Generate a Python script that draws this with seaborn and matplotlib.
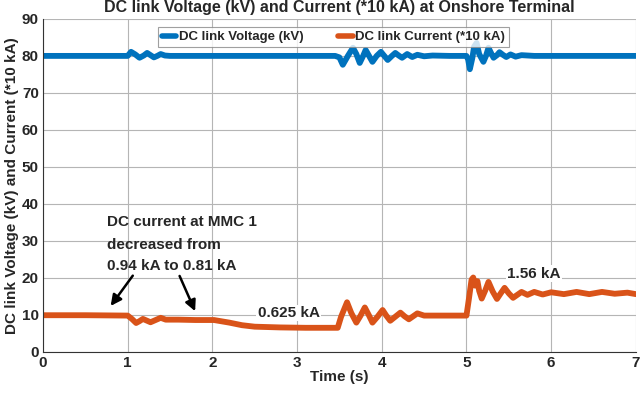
import matplotlib
matplotlib.use("Agg")
import matplotlib.pyplot as plt
import seaborn as sns
import pandas as pd

# ---- data ----
v_time = [0.0, 0.5, 1.0, 1.04, 1.09, 1.14, 1.19, 1.23, 1.27, 1.31, 1.35, 1.39, 1.44, 1.5, 2.0, 2.5, 3.0,
          3.45, 3.5, 3.54, 3.6, 3.66, 3.7, 3.74, 3.78, 3.81, 3.85, 3.89, 3.94, 3.99, 4.03, 4.07, 4.12,
          4.16, 4.2, 4.24, 4.3, 4.36, 4.42, 4.5, 4.6, 4.8, 5.0, 5.02, 5.04, 5.07, 5.09, 5.12, 5.15,
          5.2, 5.23, 5.26, 5.29, 5.32, 5.36, 5.39, 5.43, 5.47, 5.52, 5.58, 5.65, 5.8, 6.0, 6.3, 6.6, 7.0]
v_vals = [80.0, 80.0, 80.0, 81.1, 80.4, 79.5, 80.1, 80.8, 80.2, 79.6, 80.0, 80.5, 80.1, 80.0, 80.0, 80.0, 80.0,
          80.0, 79.6, 77.6, 80.0, 82.2, 80.5, 78.1, 80.0, 81.6, 80.0, 78.4, 80.0, 81.1, 80.0, 78.9, 80.0,
          80.8, 80.1, 79.5, 80.5, 79.7, 80.3, 79.9, 80.1, 80.0, 80.0, 79.0, 76.4, 79.5, 82.5, 83.5, 80.5,
          78.4, 80.0, 82.2, 80.8, 79.5, 80.2, 81.0, 80.3, 79.7, 80.4, 79.8, 80.2, 80.0, 80.0, 80.0, 80.0, 80.0]

i_time = [0.0, 0.5, 1.0, 1.05, 1.1, 1.14, 1.18, 1.22, 1.27, 1.33, 1.39, 1.45, 1.6, 1.8, 2.02, 2.2, 2.35,
          2.5, 2.8, 3.1, 3.48, 3.52, 3.59, 3.64, 3.7, 3.75, 3.8, 3.85, 3.89, 3.95, 4.01, 4.05, 4.1,
          4.16, 4.22, 4.27, 4.32, 4.37, 4.42, 4.5, 4.7, 5.0, 5.03, 5.06, 5.08, 5.1, 5.13, 5.15, 5.18,
          5.22, 5.26, 5.31, 5.36, 5.41, 5.45, 5.5, 5.55, 5.6, 5.65, 5.72, 5.8, 5.9, 6.0, 6.15, 6.3,
          6.45, 6.6, 6.75, 6.9, 7.0]
i_vals = [9.9, 9.9, 9.8, 8.9, 7.8, 8.3, 8.9, 8.5, 8.0, 8.6, 9.2, 8.7, 8.7, 8.6, 8.6, 7.9, 7.2,
          6.8, 6.6, 6.5, 6.5, 9.5, 13.4, 10.5, 7.9, 9.8, 12.0, 9.8, 7.9, 9.5, 11.3, 9.9, 8.4,
          9.5, 10.6, 9.6, 8.8, 9.6, 10.4, 9.8, 9.8, 9.8, 14.5, 19.5, 20.1, 17.9, 19.1, 16.5, 14.4,
          16.5, 18.9, 16.3, 14.3, 16.0, 17.3, 15.8, 14.6, 15.4, 16.2, 15.4, 16.2, 15.5, 16.1, 15.6, 16.2,
          15.6, 16.2, 15.7, 16.0, 15.6]

series_names = ["DC link Voltage (kV)", "DC link Current (*10 kA)"]
colors = ["#0072BD", "#D95319"]

df = pd.concat([
    pd.DataFrame({"t": v_time, "val": v_vals, "series": series_names[0]}),
    pd.DataFrame({"t": i_time, "val": i_vals, "series": series_names[1]}),
], ignore_index=True)

sns.set_style("whitegrid")
FONT = ["Liberation Sans Narrow", "Liberation Sans", "DejaVu Sans"]
plt.rcParams["font.family"] = FONT
plt.rcParams["font.weight"] = "bold"

fig = plt.figure(figsize=(6.41, 3.94), dpi=100)
ax = fig.add_axes([0.067, 0.107, 0.925, 0.845])

sns.lineplot(data=df, x="t", y="val", hue="series", palette=colors, sort=False,
             estimator=None, linewidth=4.2, ax=ax)
for ln in ax.get_lines():
    ln.set_solid_joinstyle("round")
    ln.set_solid_capstyle("round")

ax.set_xlim(0, 7)
ax.set_ylim(0, 90)
ax.set_xticks(range(0, 8))
ax.set_yticks(range(0, 91, 10))
ax.grid(True, color="#b5b5b5", linewidth=0.8)
for s in ax.spines.values():
    s.set_visible(False)
ax.spines["bottom"].set_visible(True)
ax.spines["left"].set_visible(True)
ax.spines["bottom"].set_color("#333333")
ax.spines["left"].set_color("#333333")
ax.tick_params(axis="both", labelsize=11, length=0, pad=3)
for lab in ax.get_xticklabels() + ax.get_yticklabels():
    lab.set_fontweight("bold")

ax.set_xlabel("Time (s)", fontsize=11, fontweight="bold", labelpad=0)
ax.set_ylabel("DC link Voltage (kV) and Current (*10 kA)", fontsize=11, fontweight="bold", labelpad=2)
ax.set_title("DC link Voltage (kV) and Current (*10 kA) at Onshore Terminal",
             fontsize=11.5, fontweight="bold", pad=5)

leg = ax.legend(loc="upper center", bbox_to_anchor=(0.49, 0.995), ncol=2, fontsize=9.5,
                frameon=True, fancybox=False, edgecolor="#888888", handlelength=1.1,
                handletextpad=0.2, columnspacing=2.6, borderpad=0.3)
leg.get_frame().set_linewidth(0.8)
for t in leg.get_texts():
    t.set_fontweight("bold")
for h in leg.get_lines():
    h.set_linewidth(4)

ax.text(0.76, 35.1, "DC current at MMC 1", fontsize=11, fontweight="bold", va="center", ha="left")
ax.text(0.76, 29.0, "decreased from", fontsize=11, fontweight="bold", va="center", ha="left")
ax.text(0.76, 23.3, "0.94 kA to 0.81 kA", fontsize=11, fontweight="bold", va="center", ha="left")
ax.annotate("", xy=(0.78, 11.8), xytext=(1.08, 21.2),
            arrowprops=dict(arrowstyle="-|>", color="black", lw=1.8, mutation_scale=16))
ax.annotate("", xy=(1.81, 10.3), xytext=(1.6, 21.2),
            arrowprops=dict(arrowstyle="-|>", color="black", lw=1.8, mutation_scale=16))

ax.text(2.9, 10.5, "0.625 kA", fontsize=11, fontweight="bold", va="center", ha="center",
        bbox=dict(facecolor="white", edgecolor="none", pad=1))
ax.text(5.8, 21.1, "1.56 kA", fontsize=11, fontweight="bold", va="center", ha="center",
        bbox=dict(facecolor="white", edgecolor="none", pad=1))

fig.savefig("out.png", dpi=100)
